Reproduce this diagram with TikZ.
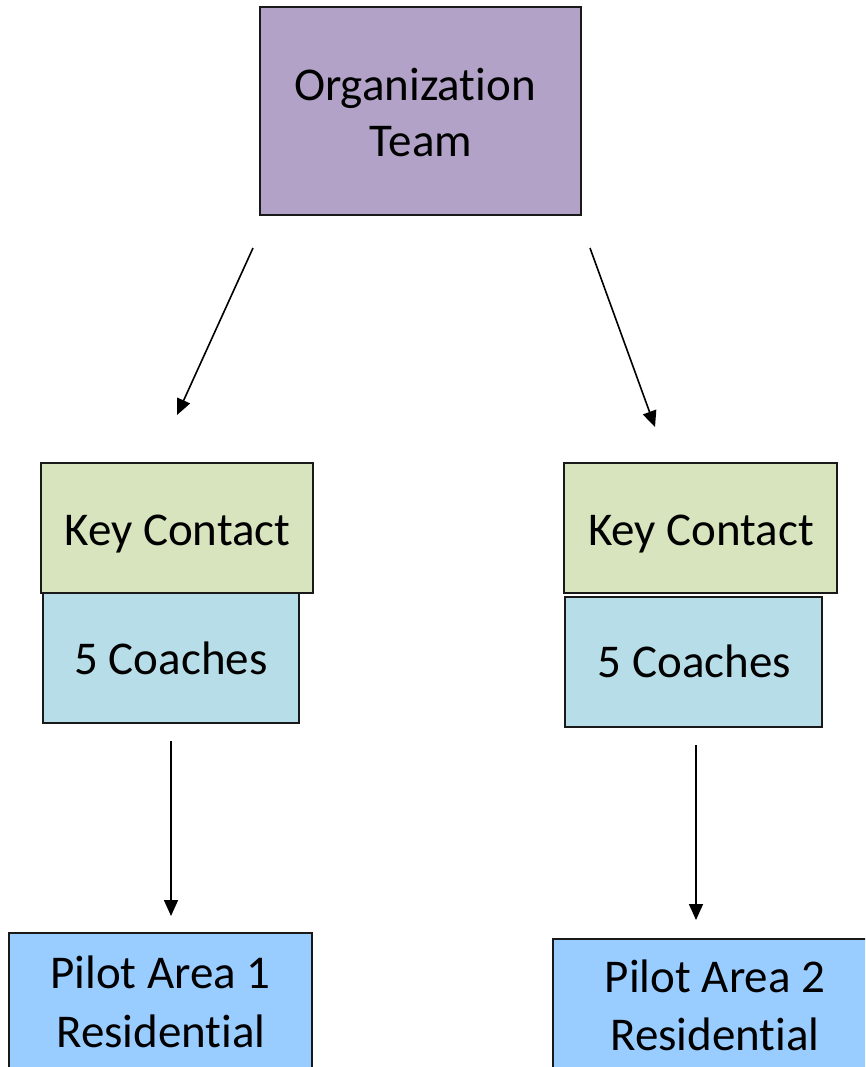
\documentclass[tikz,border=0pt]{standalone}
\usepackage{fontspec}
\setmainfont{Carlito}[Ligatures=CommonOff]
\usetikzlibrary{arrows.meta}
\definecolor{orgcol}{HTML}{B3A2C7}
\definecolor{kccol}{HTML}{D7E4BD}
\definecolor{cocol}{HTML}{B7DEE8}
\definecolor{picol}{HTML}{99CCFF}
\tikzset{
  box/.style={draw=black!90, line width=1.6pt, rectangle, inner sep=0pt, outer sep=0pt},
  lbl/.style={anchor=base, inner sep=0pt, font=\fontsize{47}{57}\selectfont},
  arr/.style={line width=1.6pt, -{Triangle[length=16pt,width=14pt]}}
}
\begin{document}
\begin{tikzpicture}[x=1pt,y=-1pt]
\useasboundingbox (0,0) rectangle (865,1067);
\clip (0,0) rectangle (865,1067);
% boxes
\node[box, fill=orgcol, minimum width=321pt, minimum height=208pt] (org) at (420.5,111) {};
\node[box, fill=kccol, minimum width=272pt, minimum height=130pt] (kc1) at (177,528) {};
\node[box, fill=cocol, minimum width=256pt, minimum height=130pt] (co1) at (171,658) {};
\node[box, fill=kccol, minimum width=273pt, minimum height=130pt] (kc2) at (700.5,528) {};
\node[box, fill=cocol, minimum width=257pt, minimum height=130pt] (co2) at (693.5,662) {};
\node[box, fill=picol, minimum width=303pt, minimum height=167pt] (p1) at (160.5,1016.5) {};
\node[box, fill=picol, minimum width=327pt, minimum height=161pt] (p2) at (716.5,1019.5) {};
% labels
\node[lbl] (orgt1) at (415,101) {Organization};
\node[lbl] (orgt2) at (421,157) {Team};
\node[lbl] (kc1t) at (177.5,545) {Key Contact};
\node[lbl] (kc2t) at (701,545) {Key Contact};
\node[lbl] (co1t) at (171,674) {5 Coaches};
\node[lbl] (co2t) at (694.5,677) {5 Coaches};
\node[lbl] (p1t1) at (160.5,988) {Pilot Area 1};
\node[lbl] (p1t2) at (161,1047) {Residential};
\node[lbl] (p2t1) at (715,992) {Pilot Area 2};
\node[lbl] (p2t2) at (715,1050) {Residential};
% connector ends
\coordinate (a1s) at (253,248);
\coordinate (a1e) at (177,415);
\coordinate (a2s) at (590,248);
\coordinate (a2e) at (655,427);
\coordinate (a3s) at (171,741);
\coordinate (a3e) at (171,916);
\coordinate (a4s) at (696,745);
\coordinate (a4e) at (696,920);
\draw[arr] (a1s) -- (a1e);
\draw[arr] (a2s) -- (a2e);
\draw[arr] (a3s) -- (a3e);
\draw[arr] (a4s) -- (a4e);
\end{tikzpicture}
\end{document}
